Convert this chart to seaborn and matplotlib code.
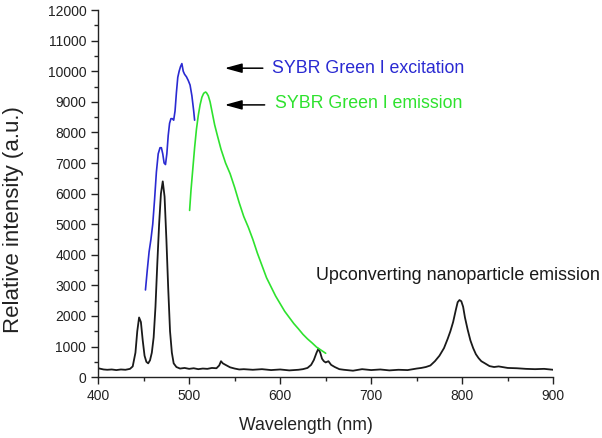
import seaborn as sns
import matplotlib.pyplot as plt
import pandas as pd
from matplotlib.ticker import MultipleLocator

# upconverting nanoparticle emission (black)
black_wl = [400, 403, 406, 410, 415, 420, 425, 430, 435, 438, 441, 443, 445, 447, 449, 451, 453, 455, 457, 459,
            461, 463, 465, 467, 469, 471, 473, 475, 477, 479, 481, 483, 486, 490, 495, 500, 505, 510, 515, 520,
            525, 530, 533, 535, 537, 540, 545, 550, 555, 560, 570, 580, 590, 600, 610, 620, 625, 630, 634, 637,
            640, 642, 644, 646, 648, 650, 653, 656, 660, 665, 670, 680, 690, 700, 710, 720, 730, 740, 750, 755,
            760, 765, 770, 775, 780, 784, 787, 790, 793, 795, 797, 799, 801, 803, 806, 809, 812, 815, 818, 821,
            825, 830, 835, 840, 850, 860, 870, 880, 890, 900]
black_val = [290, 270, 250, 240, 250, 230, 250, 240, 270, 350, 800, 1500, 1950, 1800, 1200, 700, 500, 450, 550, 800,
             1300, 2300, 3700, 5000, 6000, 6400, 5900, 4500, 2900, 1500, 800, 450, 330, 280, 300, 270, 290, 260, 280, 270,
             300, 290, 380, 520, 450, 400, 320, 280, 250, 260, 240, 260, 230, 250, 220, 240, 260, 300, 400, 560,
             800, 930, 800, 600, 520, 480, 520, 400, 330, 260, 240, 210, 260, 230, 250, 220, 240, 230, 280, 300,
             330, 380, 520, 700, 950, 1250, 1500, 1800, 2200, 2450, 2520, 2480, 2300, 1950, 1550, 1200, 950, 750, 620, 520,
             450, 360, 330, 350, 300, 290, 270, 260, 270, 240]

# SYBR Green I excitation (blue)
exc_wl = [452, 454, 456, 458, 460, 462, 464, 466, 468, 469.5, 471, 472.5, 474, 475.5, 477, 478.5, 480, 481.5, 483,
          484.5, 486, 487.5, 489, 490.5, 492, 493.5, 495, 497, 499, 501, 503, 505, 506]
exc_val = [2850, 3500, 4100, 4500, 5000, 5800, 6700, 7300, 7500, 7500, 7300, 7000, 6950, 7300, 7900, 8300, 8450, 8450, 8400,
           8700, 9300, 9800, 10000, 10150, 10250, 10000, 9900, 9820, 9700, 9550, 9200, 8700, 8400]

# SYBR Green I emission (green)
em_wl = [500.5, 502, 504, 506, 508, 510, 512, 514, 516, 518, 519, 521, 523, 525, 528, 531, 535, 540, 545, 550,
         555, 560, 565, 570, 575, 580, 585, 590, 595, 600, 605, 610, 615, 620, 625, 630, 635, 640, 645, 650]
em_val = [5450, 6100, 6800, 7500, 8100, 8550, 8900, 9150, 9280, 9320, 9300, 9200, 9000, 8700, 8250, 7900, 7450, 7000, 6650, 6200,
          5700, 5250, 4900, 4500, 4050, 3650, 3250, 2950, 2650, 2400, 2150, 1950, 1750, 1580, 1400, 1250, 1120, 980, 880, 780]

sns.set_style("ticks")
plt.rcParams['font.family'] = ['Liberation Sans', 'DejaVu Sans']

fig = plt.figure(figsize=(6.02, 4.38), dpi=100)
ax = fig.add_axes([0.163, 0.139, 0.756, 0.838])

blue = "#2a2ad2"
green = "#2ee22e"

sns.lineplot(x=black_wl, y=black_val, color="#1a1a1a", lw=1.3, ax=ax)
sns.lineplot(x=exc_wl, y=exc_val, color=blue, lw=1.2, ax=ax)
sns.lineplot(x=em_wl, y=em_val, color=green, lw=1.2, ax=ax)

ax.set_xlim(400, 900)
ax.set_ylim(0, 12000)
ax.xaxis.set_major_locator(MultipleLocator(100))
ax.xaxis.set_minor_locator(MultipleLocator(50))
ax.yaxis.set_major_locator(MultipleLocator(1000))
ax.yaxis.set_minor_locator(MultipleLocator(500))
ax.tick_params(which="major", direction="out", length=5, width=1, labelsize=10, colors="#222222")
ax.tick_params(which="minor", direction="out", length=3, width=1)
for s in ["top", "right"]:
    ax.spines[s].set_visible(False)
for s in ["left", "bottom"]:
    ax.spines[s].set_linewidth(1)
    ax.spines[s].set_color("#222222")

ax.set_xlabel("Wavelength (nm)", fontsize=12.7, color="#222222")
ax.set_ylabel("Relative intensity (a.u.)", fontsize=16, color="#222222")
ax.xaxis.set_label_coords(0.456, -0.11)
ax.yaxis.set_label_coords(-0.163, 0.43)

arrow = dict(arrowstyle="-|>,head_length=0.8,head_width=0.22", color="black", lw=1.1, mutation_scale=13)
ax.annotate("", xy=(536, 10100), xytext=(584, 10100), arrowprops=arrow)
ax.annotate("", xy=(536, 8900), xytext=(586, 8900), arrowprops=arrow)
ax.text(591, 10100, "SYBR Green I excitation", color=blue, fontsize=12.8, va="center", ha="left")
ax.text(594, 8950, "SYBR Green I emission", color=green, fontsize=12.8, va="center", ha="left")
ax.text(795, 3330, "Upconverting nanoparticle emission", color="#1a1a1a", fontsize=12.9, va="center", ha="center")

fig.savefig("out.png", dpi=100)
